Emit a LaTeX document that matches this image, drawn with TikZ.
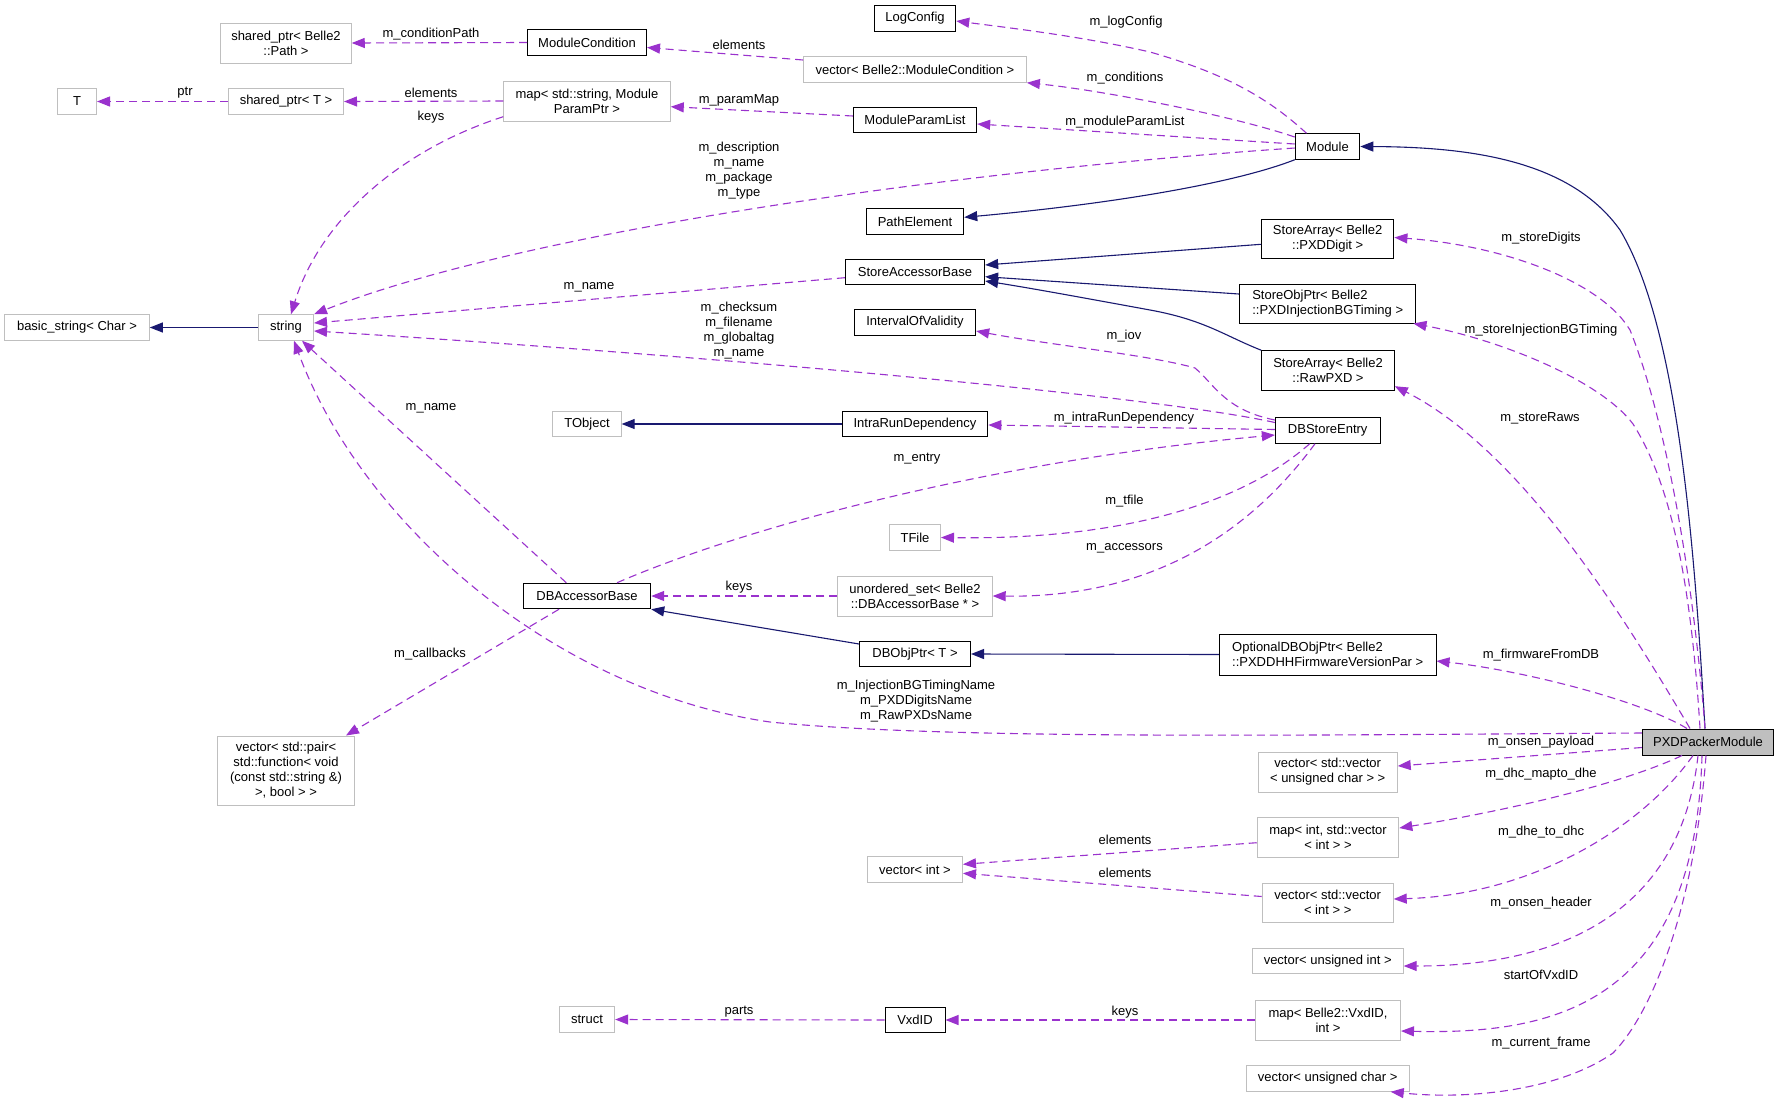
\documentclass[tikz,border=0pt]{standalone}
\usepackage{fontspec}
\setmainfont{Liberation Sans}
\usetikzlibrary{arrows.meta}
\definecolor{edgep}{HTML}{9A32CD}
\definecolor{navyc}{HTML}{191970}
\definecolor{lgray}{HTML}{BFBFBF}
\tikzset{
  box/.style={draw=black, line width=1pt, fill=white, inner sep=0pt, align=center,
    font=\fontsize{13pt}{15pt}\selectfont, minimum height=25.5pt},
  gbox/.style={box, draw=lgray},
  lbox/.style={box, align=left},
  lab/.style={inner sep=0pt, align=center, font=\fontsize{13pt}{15pt}\selectfont},
  dep/.style={draw=edgep, line width=1.1pt, dash pattern=on 8pt off 5pt,
    -{Triangle[length=13pt,width=10pt,fill=edgep]}},
  inh/.style={draw=navyc, line width=1.1pt, -{Triangle[length=13pt,width=10pt,fill=navyc]}}
}
\begin{document}
\begin{tikzpicture}[x=1pt,y=-1pt]
\useasboundingbox (0,0) rectangle (1779,1103);
\fill[white] (0,0) rectangle (1779,1103);
% ---------- nodes ----------
\node[gbox, minimum width=130.5pt, minimum height=40pt] (sharedPath) at (286,43) {shared\_ptr< Belle2\\::Path >};
\node[box, minimum width=119pt] (ModCond) at (587,42.5) {ModuleCondition};
\node[gbox, minimum width=39pt] (T) at (77,101.5) {T};
\node[gbox, minimum width=115pt] (sharedT) at (286,101.5) {shared\_ptr< T >};
\node[gbox, minimum width=166.5pt, minimum height=40pt] (mapParam) at (587,101) {map< std::string, Module\\ParamPtr >};
\node[gbox, minimum width=144.6pt] (basicString) at (77,327.5) {basic\_string< Char >};
\node[gbox, minimum width=55pt] (string) at (286,327.5) {string};
\node[box, minimum width=81.5pt] (LogConfig) at (915,18.5) {LogConfig};
\node[gbox, minimum width=222.7pt] (vecModCond) at (915,69.5) {vector< Belle2::ModuleCondition >};
\node[box, minimum width=123.3pt] (ModParamList) at (915,120) {ModuleParamList};
\node[box, minimum width=97.5pt] (PathElement) at (915,221.5) {PathElement};
\node[box, minimum width=139.3pt] (StoreAccBase) at (915,272) {StoreAccessorBase};
\node[box, minimum width=121.3pt] (IoV) at (915,322.5) {IntervalOfValidity};
\node[box, minimum width=64.6pt] (Module) at (1327.5,146.5) {Module};
\node[box, minimum width=132.4pt, minimum height=39pt] (SADigit) at (1327.7,238.5) {StoreArray< Belle2\\::PXDDigit >};
\node[lbox, minimum width=176.5pt, minimum height=39pt] (SOPtr) at (1327.7,303.5) {StoreObjPtr< Belle2\\::PXDInjectionBGTiming >};
\node[box, minimum width=132.6pt, minimum height=40pt] (SARaw) at (1328,370.7) {StoreArray< Belle2\\::RawPXD >};
\node[box, minimum width=104.7pt] (DBStoreEntry) at (1327.7,430.5) {DBStoreEntry};
\node[lbox, minimum width=216.6pt, minimum height=41pt] (OptDBObj) at (1327.7,654.5) {OptionalDBObjPtr< Belle2\\::PXDDHHFirmwareVersionPar >};
\node[box, fill=lgray, minimum width=131.5pt, minimum height=26pt] (PXD) at (1708,742) {PXDPackerModule};
\node[gbox, minimum width=68.3pt] (TObject) at (587,424) {TObject};
\node[box, minimum width=127.4pt] (DBAccBase) at (587,596) {DBAccessorBase};
\node[gbox, minimum width=137.7pt, minimum height=69pt] (vecPair) at (286,770.5) {vector< std::pair<\\std::function< void\\(const std::string \&)\\>, bool > >};
\node[box, minimum width=145.6pt] (IntraRun) at (915,424) {IntraRunDependency};
\node[gbox, minimum width=51pt] (TFile) at (915,537.5) {TFile};
\node[gbox, minimum width=154.4pt, minimum height=40pt] (uset) at (915,596) {unordered\_set< Belle2\\::DBAccessorBase * >};
\node[box, minimum width=111pt] (DBObjPtr) at (915,654) {DBObjPtr< T >};
\node[gbox, minimum width=95pt] (vecInt) at (915,869.5) {vector< int >};
\node[gbox, minimum width=55.3pt] (struct) at (587,1019.5) {struct};
\node[box, minimum width=60pt] (VxdID) at (915,1020) {VxdID};
\node[gbox, minimum width=139pt, minimum height=40pt] (vecVecUChar) at (1327.7,772) {vector< std::vector\\< unsigned char > >};
\node[gbox, minimum width=141.6pt, minimum height=40pt] (mapIntVec) at (1328,837) {map< int, std::vector\\< int > >};
\node[gbox, minimum width=131pt, minimum height=39pt] (vecVecInt) at (1327.7,902.5) {vector< std::vector\\< int > >};
\node[gbox, minimum width=151pt] (vecUInt) at (1327.7,961) {vector< unsigned int >};
\node[gbox, minimum width=145pt, minimum height=40pt] (mapVxd) at (1328,1020) {map< Belle2::VxdID,\\int >};
\node[gbox, minimum width=163pt] (vecUChar) at (1327.7,1078.5) {vector< unsigned char >};
% ---------- inheritance ----------
\draw[inh] (Module.south west) .. controls (1230,185) and (1100,205) .. ([yshift=4.2pt]PathElement.east);
\draw[inh] ([xshift=-3pt]PXD.north) .. controls (1695,560) and (1680,330) .. (1620,230) .. controls (1570,160) and (1470,147) .. (Module.east);
\draw[inh] ([yshift=-5.8pt]SADigit.west) -- ([yshift=7pt]StoreAccBase.east);
\draw[inh] ([yshift=9.5pt]SOPtr.west) -- ([yshift=-4.7pt]StoreAccBase.east);
\draw[inh] (SARaw.north west) .. controls (1225,336) and (1205,320) .. (1150,310) .. controls (1090,299) and (1030,288) .. ([yshift=-9pt]StoreAccBase.east);
\draw[inh] (IntraRun.west) -- (TObject.east);
\draw[inh] (string.west) -- (basicString.east);
\draw[inh] ([yshift=10pt]DBObjPtr.west) -- (DBAccBase.south east);
\draw[inh] (OptDBObj.west) -- (DBObjPtr.east);
% ---------- collaboration ----------
\draw[dep] ([xshift=-21pt]Module.north) .. controls (1270,100) and (1230,75) .. (1150,52) .. controls (1080,36) and (1010,28) .. ([yshift=-2.5pt]LogConfig.east);
\node[lab] (l01) at (1126,22) {m\_logConfig};
\draw[dep] ([yshift=9.5pt]Module.west) .. controls (1230,115) and (1100,90) .. (vecModCond.south east);
\node[lab] (l02) at (1125,78) {m\_conditions};
\draw[dep] ([yshift=2.5pt]Module.west) -- ([yshift=-4pt]ModParamList.east);
\node[lab] (l03) at (1125,122) {m\_moduleParamList};
\draw[dep] ([yshift=-1.5pt]Module.west) .. controls (900,175) and (500,240) .. (string.north east);
\node[lab] (l04) at (739,171) {m\_description\\m\_name\\m\_package\\m\_type};
\draw[dep] ([yshift=-5.7pt]StoreAccBase.west) -- ([yshift=4.5pt]string.east);
\node[lab] (l05) at (589,287) {m\_name};
\draw[dep] ([yshift=8pt]DBStoreEntry.west) .. controls (1150,395) and (700,355) .. ([yshift=-3.5pt]string.east);
\node[lab] (l06) at (739,331) {m\_checksum\\m\_filename\\m\_globaltag\\m\_name};
\draw[dep] ([yshift=10.5pt]DBStoreEntry.west) .. controls (1225,410) and (1215,385) .. (1195,368) .. controls (1150,355) and (1050,345) .. ([yshift=-8.5pt]IoV.east);
\node[lab] (l07) at (1124,336) {m\_iov};
\draw[dep] ([yshift=1pt]DBStoreEntry.west) -- ([yshift=-1pt]IntraRun.east);
\node[lab] (l08) at (1124,418) {m\_intraRunDependency};
\draw[dep] ([xshift=30pt]DBAccBase.north) .. controls (750,525) and (1000,460) .. ([yshift=-4.5pt]DBStoreEntry.west);
\node[lab] (l09) at (917,459) {m\_entry};
\draw[dep] ([xshift=-18pt]DBStoreEntry.south) .. controls (1240,505) and (1120,540) .. (TFile.east);
\node[lab] (l10) at (1124.5,501) {m\_tfile};
\draw[dep] ([xshift=-12.7pt]DBStoreEntry.south) .. controls (1255,525) and (1160,598) .. (uset.east);
\node[lab] (l11) at (1124.5,548) {m\_accessors};
\draw[dep] (uset.west) -- (DBAccBase.east);
\node[lab] (l12) at (739,587) {keys};
\draw[dep] ([xshift=-20.7pt]DBAccBase.north) -- ([xshift=16pt]string.south);
\node[lab] (l13) at (431,408) {m\_name};
\draw[dep] ([xshift=-28pt]DBAccBase.south) -- ([xshift=60pt]vecPair.north);
\node[lab] (l14) at (430,654) {m\_callbacks};
\draw[dep] ([yshift=9pt]PXD.west) .. controls (1300,735) and (950,740) .. (770,722) .. controls (550,690) and (360,520) .. ([xshift=8pt]string.south);
\node[lab] (l15) at (916,701) {m\_InjectionBGTimingName\\m\_PXDDigitsName\\m\_RawPXDsName};
\draw[dep] ([xshift=-3pt]PXD.north) .. controls (1695,600) and (1670,430) .. (1630,330) .. controls (1600,280) and (1500,245) .. ([yshift=1pt]SADigit.east);
\node[lab] (l16) at (1541,238) {m\_storeDigits};
\draw[dep] ([xshift=-8pt]PXD.north) .. controls (1692,600) and (1675,490) .. (1633,424) .. controls (1600,380) and (1500,340) .. ([xshift=-3pt]SOPtr.south east);
\node[lab] (l17) at (1541,330) {m\_storeInjectionBGTiming};
\draw[dep] ([xshift=-18pt]PXD.north) .. controls (1620,610) and (1520,450) .. ([yshift=5pt]SARaw.south east);
\node[lab] (l18) at (1540,418) {m\_storeRaws};
\draw[dep] ([xshift=-21pt]PXD.north) .. controls (1640,700) and (1520,670) .. ([yshift=-6.5pt]OptDBObj.east);
\node[lab] (l19) at (1541,655) {m\_firmwareFromDB};
\draw[dep] ([yshift=-5.5pt]PXD.west) -- ([yshift=6pt]vecVecUChar.east);
\node[lab] (l20) at (1541,742) {m\_onsen\_payload};
\draw[dep] ([xshift=-26pt]PXD.south) .. controls (1620,785) and (1500,812) .. ([yshift=9pt]mapIntVec.east);
\node[lab] (l21) at (1541,774) {m\_dhc\_mapto\_dhe};
\draw[dep] ([xshift=-15pt]PXD.south) .. controls (1640,830) and (1530,895) .. ([yshift=3.5pt]vecVecInt.east);
\node[lab] (l22) at (1541,832) {m\_dhe\_to\_dhc};
\draw[dep] ([xshift=-10pt]PXD.south) .. controls (1680,920) and (1550,966) .. ([yshift=-5pt]vecUInt.east);
\node[lab] (l23) at (1541,903) {m\_onsen\_header};
\draw[dep] ([xshift=-6pt]PXD.south) .. controls (1695,1000) and (1560,1035) .. ([yshift=-11pt]mapVxd.east);
\node[lab] (l24) at (1541,975) {startOfVxdID};
\draw[dep] ([xshift=-2pt]PXD.south) .. controls (1695,900) and (1655,1010) .. (1613,1053) .. controls (1560,1090) and (1470,1100) .. ([xshift=63pt]vecUChar.south);
\node[lab] (l25) at (1541,1043) {m\_current\_frame};
\draw[dep] ([yshift=-5.7pt]mapIntVec.west) -- ([yshift=5.2pt]vecInt.east);
\node[lab] (l26) at (1125,840) {elements};
\draw[dep] ([yshift=6pt]vecVecInt.west) -- ([yshift=-3.8pt]vecInt.east);
\node[lab] (l27) at (1125,873) {elements};
\draw[dep] (mapVxd.west) -- (VxdID.east);
\node[lab] (l28) at (1125,1012) {keys};
\draw[dep] (VxdID.west) -- (struct.east);
\node[lab] (l29) at (739,1012) {parts};
\draw[dep] ([yshift=9.5pt]vecModCond.west) -- ([yshift=-5pt]ModCond.east);
\node[lab] (l30) at (739,45) {elements};
\draw[dep] (ModCond.west) -- (sharedPath.east);
\node[lab] (l31) at (431,34) {m\_conditionPath};
\draw[dep] ([yshift=4pt]ModParamList.west) -- ([yshift=-5.7pt]mapParam.east);
\node[lab] (l32) at (739,100) {m\_paramMap};
\draw[dep] (mapParam.west) -- (sharedT.east);
\node[lab] (l33) at (431,93) {elements};
\draw[dep] ([yshift=-15.7pt]mapParam.west) .. controls (400,150) and (320,220) .. ([xshift=5pt]string.north);
\node[lab] (l34) at (431,117) {keys};
\draw[dep] (sharedT.west) -- (T.east);
\node[lab] (l35) at (185,93) {ptr};
\end{tikzpicture}
\end{document}
